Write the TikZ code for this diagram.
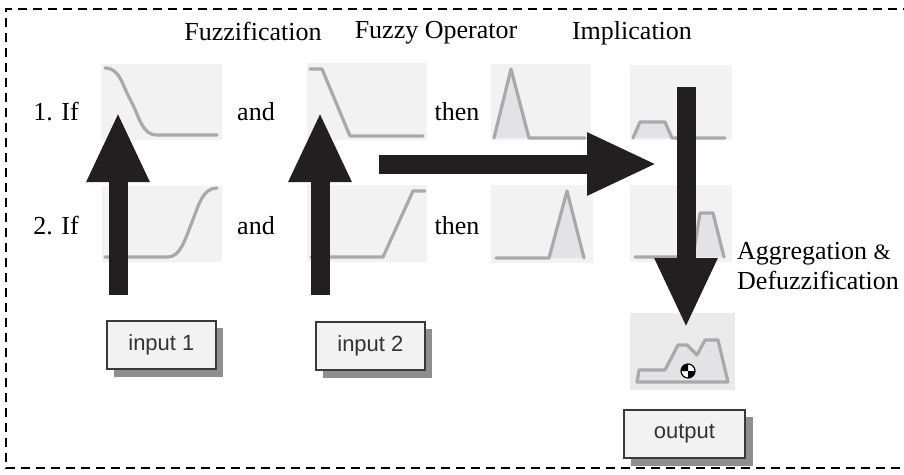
\documentclass[tikz,border=0pt]{standalone}
\usepackage{fontspec}
\setmainfont{Liberation Serif}
\newfontfamily\boxfont{Liberation Sans}
\usetikzlibrary{arrows.meta}
\definecolor{panelbg}{HTML}{F2F2F2}
\definecolor{outbg}{HTML}{EAEAEA}
\definecolor{mfline}{HTML}{A9A9A9}
\definecolor{mffill}{HTML}{E3E3E6}
\definecolor{arrowblk}{HTML}{231F20}
\definecolor{boxedge}{HTML}{3A3A3A}
\definecolor{boxshadow}{HTML}{8E8E8E}
\definecolor{boxtext}{HTML}{333333}
\begin{document}
\begin{tikzpicture}[x=1pt,y=-1pt,
  lbl/.style={font=\fontsize{26}{30}\selectfont, inner sep=0pt},
  panel/.style={fill=panelbg, draw=none, inner sep=0pt, anchor=north west},
  mf/.style={draw=mfline, line width=3.2pt, line join=round, line cap=round},
  mfarea/.style={fill=mffill, draw=none},
  bigarrow/.style={draw=arrowblk, line width=19pt, -{Triangle[length=70pt,width=58pt]}, fill=arrowblk},
  iobox/.style={draw=boxedge, line width=1.8pt, fill=panelbg, minimum width=109pt,
    minimum height=48pt, inner sep=0pt, font=\boxfont\fontsize{22}{24}\selectfont, text=boxtext,
    anchor=north west},
  ioshadow/.style={fill=boxshadow, draw=none}
]
\useasboundingbox (0,0) rectangle (904,474);

% dashed frame (right side runs off the page)
\draw[line width=1.8pt, dash pattern=on 9pt off 6pt] (912,9) -- (6,9) -- (6,468) -- (912,468);

% column headings
\node[lbl] (hfuzz) at (253,31) {Fuzzification};
\node[lbl] (hop) at (436,33) {Fuzzy Operator};
\node[lbl] (himp) at (632,33) {Implication};

% rule labels
\node[lbl] (if1) at (56,112) {1. If};
\node[lbl] (if2) at (56,226) {2. If};
\node[lbl] (and1) at (256,112) {and};
\node[lbl] (and2) at (256,226) {and};
\node[lbl] (then1) at (457,112) {then};
\node[lbl] (then2) at (457,226) {then};
\node[lbl, anchor=west, align=left] (agg) at (737,266) {Aggregation {\fontsize{22}{30}\selectfont\&}\\Defuzzification};

% membership-function panels
\node[panel, minimum width=121pt, minimum height=76pt] (p11) at (101,64) {};
\node[panel, minimum width=120pt, minimum height=77pt] (p12) at (307,63) {};
\node[panel, minimum width=100pt, minimum height=76pt] (p13) at (491,64) {};
\node[panel, minimum width=102pt, minimum height=75pt] (p14) at (630,65) {};
\node[panel, minimum width=120pt, minimum height=76pt] (p21) at (102,186) {};
\node[panel, minimum width=120pt, minimum height=77pt] (p22) at (307,185) {};
\node[panel, minimum width=102pt, minimum height=78pt] (p23) at (491,185) {};
\node[panel, minimum width=102pt, minimum height=77pt] (p24) at (630,185) {};
\node[panel, fill=outbg, minimum width=105pt, minimum height=77pt] (pout) at (630,313) {};

% rule 1 curves
\draw[mf] (105,68) .. controls (120,68) and (122,85) .. (131,101)
          .. controls (140,118) and (142,135) .. (157,135) -- (217,135);
\draw[mf] (310,69) -- (322,69) -- (350,136) -- (423,136);
\fill[mfarea] (494,138) -- (511,69) -- (529,138) -- cycle;
\draw[mf] (494,138) -- (511,69) -- (529,138) -- (585,138);
\fill[mfarea] (633,138) -- (640,122) -- (665,122) -- (672,138) -- cycle;
\draw[mf] (633,138) -- (640,122) -- (665,122) -- (672,138) -- (725,138);

% rule 2 curves
\draw[mf] (105,257) -- (168,257) .. controls (180,257) and (185,240) .. (192,222)
          .. controls (199,204) and (203,188) .. (217,188);
\draw[mf] (311,257) -- (383,257) -- (413,191) -- (425,191);
\fill[mfarea] (549,258) -- (567,191) -- (584,258) -- cycle;
\draw[mf] (496,258) -- (549,258) -- (567,191) -- (584,258);
\fill[mfarea] (693,257) -- (700,213) -- (713,213) -- (724,257) -- cycle;
\draw[mf] (635,257) -- (693,257) -- (700,213) -- (713,213) -- (724,257);

% aggregated output set
\fill[mffill] (637,382) -- (639,370) -- (665,370) -- (678,345) -- (687,345) -- (697,355)
  -- (705,340) -- (718,340) -- (728,382) -- cycle;
\draw[mf] (637,382) -- (639,370) -- (665,370) -- (678,345) -- (687,345) -- (697,355)
  -- (705,340) -- (718,340) -- (728,382) -- cycle;

% centroid marker
\coordinate (cent) at (688,371);
\fill[white] (cent) circle (7pt);
\fill[black] (cent) -- ++(-7,0) arc[start angle=180, end angle=90, radius=7pt] -- cycle;
\fill[black] (cent) -- ++(7,0) arc[start angle=0, end angle=-90, radius=7pt] -- cycle;
\draw[black, line width=1.2pt] (cent) circle (7pt);

% input / output boxes with drop shadows
\fill[ioshadow] (114,328) rectangle (223,377);
\node[iobox] (in1) at (106,320) {input 1};
\fill[ioshadow] (323,329) rectangle (432,378);
\node[iobox] (in2) at (315,321) {input 2};
\fill[ioshadow] (631,417) rectangle (753,466);
\node[iobox, minimum width=121pt] (out) at (623,409) {output};

% flow arrows
\coordinate (a1s) at (118,295);  \coordinate (a1e) at (118,112);
\coordinate (a2s) at (320,295);  \coordinate (a2e) at (320,112);
\coordinate (a3s) at (379,164);  \coordinate (a3e) at (657,164);
\coordinate (a4s) at (686,87);   \coordinate (a4e) at (686,328);
\draw[bigarrow] (a1s) -- (a1e);
\draw[bigarrow] (a2s) -- (a2e);
\draw[bigarrow] (a3s) -- (a3e);
\draw[bigarrow] (a4s) -- (a4e);
\end{tikzpicture}
\end{document}
